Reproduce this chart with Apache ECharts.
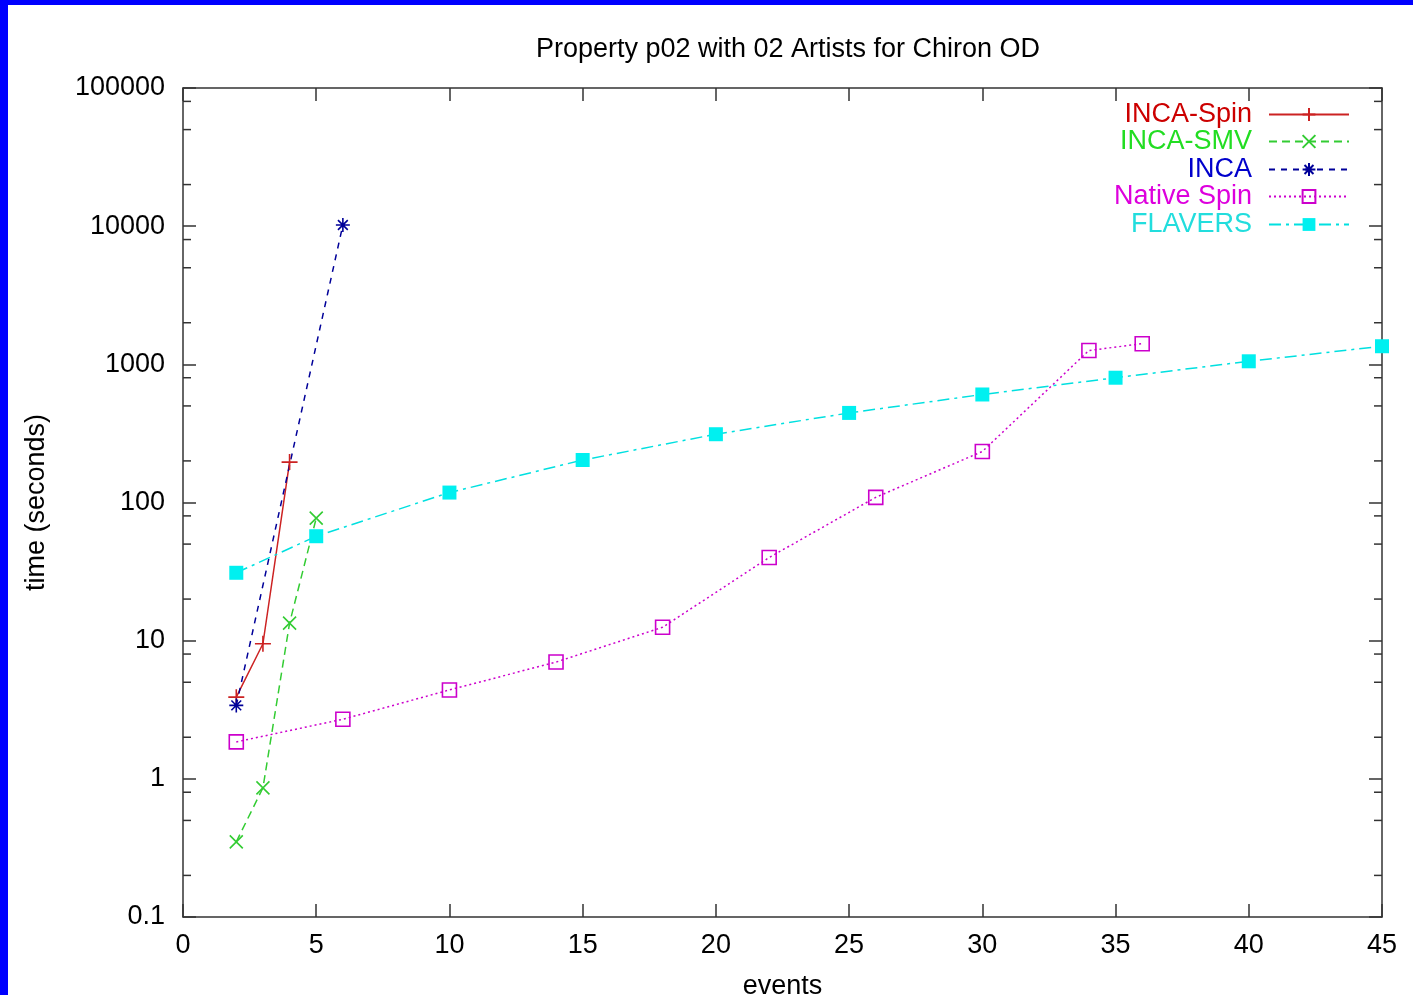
<!DOCTYPE html>
<html>
<head>
<meta charset="utf-8">
<script src="https://cdn.jsdelivr.net/npm/echarts@6/dist/echarts.min.js"></script>
<style>
html, body { margin: 0; padding: 0; background: #fff; }
#main { position: absolute; left: 0; top: 0; width: 1413px; height: 995px; }
.bar { position: absolute; background: #0000ff; }
</style>
</head>
<body>
<div id="main"></div>
<div class="bar" style="left:0;top:0;width:1413px;height:5px"></div>
<div class="bar" style="left:0;top:0;width:8px;height:995px"></div>
<script>
// values
var incaSpinX = [2, 3, 4];
var incaSpinY = [3.9, 9.5, 196];
var incaSmvX = [2, 3, 4, 5];
var incaSmvY = [0.35, 0.86, 13.4, 77];
var incaX = [2, 6];
var incaY = [3.4, 10200];
var nativeX = [2, 6, 10, 14, 18, 22, 26, 30, 34, 36];
var nativeY = [1.85, 2.7, 4.4, 7.0, 12.5, 40, 109, 234, 1260, 1410];
var flaversX = [2, 5, 10, 15, 20, 25, 30, 35, 40, 45];
var flaversY = [31, 57, 118, 203, 312, 445, 605, 800, 1052, 1352];

var yTickValues = [0.1, 1, 10, 100, 1000, 10000, 100000];
var yTickLabels = ['0.1', '1', '10', '100', '1000', '10000', '100000'];
var yMinorTicks = [0.2, 0.5, 0.8, 2, 5, 8, 20, 50, 80, 200, 500, 800,
    2000, 5000, 8000, 20000, 50000, 80000];

var FONT = '"Liberation Sans", Arial, sans-serif';
var AXIS = '#333';

function pairs(xs, ys) {
    return xs.map(function (x, i) { return [x, ys[i]]; });
}

var plus = 'path://M5,0 L5,10 M0,5 L10,5';
var cross = 'path://M0,0 L10,10 M10,0 L0,10';
var star = 'path://M5,0 L5,10 M0,5 L10,5 M1.5,1.5 L8.5,8.5 M8.5,1.5 L1.5,8.5';

var seriesDefs = [
    {name: 'INCA-Spin', data: pairs(incaSpinX, incaSpinY), color: '#cc2222', text: '#cc0000',
        type: 'solid', symbol: plus, size: 16, fill: 'rgba(0,0,0,0)'},
    {name: 'INCA-SMV', data: pairs(incaSmvX, incaSmvY), color: '#33cc33', text: '#22dd22',
        type: [8, 5], symbol: cross, size: 13, fill: 'rgba(0,0,0,0)'},
    {name: 'INCA', data: pairs(incaX, incaY), color: '#000099', text: '#0000cc',
        type: [6, 6], symbol: star, size: 14, fill: 'rgba(0,0,0,0)'},
    {name: 'Native Spin', data: pairs(nativeX, nativeY), color: '#cc00cc', text: '#dd00dd',
        type: [2, 3], symbol: 'rect', size: 14, fill: 'rgba(0,0,0,0)'},
    {name: 'FLAVERS', data: pairs(flaversX, flaversY), color: '#00e0e0', text: '#22dddd',
        type: [12, 5, 3, 5], symbol: 'rect', size: 14, fill: '#00f0f0'}
];

var series = seriesDefs.map(function (d) {
    var filled = d.fill !== 'rgba(0,0,0,0)';
    return {
        name: d.name,
        type: 'line',
        data: d.data,
        symbol: d.symbol,
        symbolSize: d.size,
        showAllSymbol: true,
        lineStyle: {color: d.color, width: 1.5, type: d.type},
        itemStyle: {color: d.fill, borderColor: d.color, borderWidth: filled ? 0 : 1.6},
        emphasis: {disabled: true},
        animation: false
    };
});

// minor ticks on the log axis, drawn on both sides of the frame
series.push({
    type: 'custom',
    silent: true,
    animation: false,
    data: yMinorTicks.map(function (v) { return [0, v]; }),
    renderItem: function (params, api) {
        var v = api.value(1);
        var l = api.coord([0, v]);
        var r = api.coord([45, v]);
        var st = {stroke: AXIS, lineWidth: 1.5};
        return {
            type: 'group',
            children: [
                {type: 'line', shape: {x1: l[0], y1: l[1], x2: l[0] + 8, y2: l[1]}, style: st},
                {type: 'line', shape: {x1: r[0], y1: r[1], x2: r[0] - 8, y2: r[1]}, style: st}
            ]
        };
    }
});

var legendTops = [101, 128, 156, 183, 211];
var legends = seriesDefs.map(function (d, i) {
    return {
        data: [d.name],
        right: 63,
        top: legendTops[i],
        padding: 0,
        align: 'right',
        itemWidth: 80,
        itemHeight: 16,
        selectedMode: false,
        textStyle: {color: d.text, fontSize: 27, fontFamily: FONT, padding: [0, 12, 0, 0]}
    };
});

function yLabel(v) {
    for (var i = 0; i < yTickValues.length; i++) {
        if (Math.abs(Math.log10(v) - Math.log10(yTickValues[i])) < 0.01) return yTickLabels[i];
    }
    return '';
}

var chart = echarts.init(document.getElementById('main'));
chart.setOption({
    backgroundColor: '#fff',
    animation: false,
    title: {
        text: 'Property p02 with 02 Artists for Chiron OD',
        left: 783,
        textAlign: 'center',
        top: 31,
        textStyle: {fontSize: 27, fontWeight: 'normal', color: '#000', fontFamily: FONT}
    },
    legend: legends,
    grid: {left: 183, right: 31, top: 88, bottom: 78, show: false, outerBoundsMode: 'none', containLabel: false},
    xAxis: [{
        type: 'value', min: 0, max: 45, interval: 5,
        name: 'events', nameLocation: 'middle', nameGap: 56,
        nameTextStyle: {fontSize: 27, color: '#000', fontFamily: FONT},
        axisLine: {onZero: false, lineStyle: {color: AXIS, width: 1.5}},
        axisTick: {inside: true, length: 13, lineStyle: {color: AXIS, width: 1.5}},
        axisLabel: {fontSize: 27, color: '#000', fontFamily: FONT, margin: 15},
        splitLine: {show: false}
    }, {
        type: 'value', min: 0, max: 45, interval: 5, position: 'top',
        axisLine: {onZero: false, lineStyle: {color: AXIS, width: 1.5}},
        axisTick: {inside: true, length: 13, lineStyle: {color: AXIS, width: 1.5}},
        axisLabel: {show: false},
        splitLine: {show: false}
    }],
    yAxis: [{
        type: 'log', logBase: 10, min: 0.1, max: 100000, splitNumber: 6,
        name: 'time (seconds)', nameLocation: 'middle', nameGap: 133,
        nameTextStyle: {fontSize: 27, color: '#000', fontFamily: FONT},
        axisLine: {onZero: false, lineStyle: {color: AXIS, width: 1.5}},
        axisTick: {inside: true, length: 13, lineStyle: {color: AXIS, width: 1.5}},
        axisLabel: {fontSize: 27, color: '#000', fontFamily: FONT, margin: 18, formatter: yLabel},
        splitLine: {show: false}
    }, {
        type: 'log', logBase: 10, min: 0.1, max: 100000, splitNumber: 6, position: 'right',
        axisLine: {onZero: false, lineStyle: {color: AXIS, width: 1.5}},
        axisTick: {inside: true, length: 13, lineStyle: {color: AXIS, width: 1.5}},
        axisLabel: {show: false},
        splitLine: {show: false}
    }],
    series: series
});
</script>
</body>
</html>
